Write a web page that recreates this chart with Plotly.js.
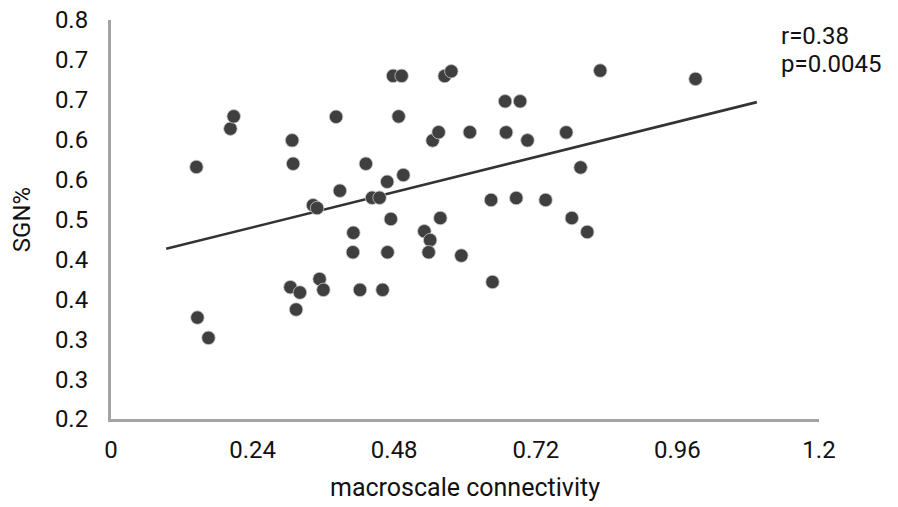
<!DOCTYPE html>
<html>
<head>
<meta charset="utf-8">
<script src="https://cdn.plot.ly/plotly-3.0.1.min.js"></script>
<style>
  html, body { margin: 0; padding: 0; background: #ffffff; }
  #chart { width: 898px; height: 507px; }
</style>
</head>
<body>
<div id="chart"></div>
<script>
// Scatter data (macroscale connectivity vs SGN%)
const connectivity = [
  0.1448, 0.1465, 0.1652, 0.2024, 0.2080, 0.3070, 0.3087, 0.3041, 0.3202, 0.3137,
  0.3425, 0.3493, 0.3535, 0.3600, 0.3815, 0.3879, 0.4108, 0.4100, 0.4320, 0.4220,
  0.4425, 0.4552, 0.4681, 0.4687, 0.4743, 0.4603, 0.4781, 0.4926, 0.4875, 0.4955,
  0.5311, 0.5409, 0.5384, 0.5451, 0.5553, 0.5582, 0.5655, 0.5768, 0.5938, 0.6082,
  0.6442, 0.6466, 0.6680, 0.6934, 0.6697, 0.7059, 0.6869, 0.7366, 0.7716, 0.7810,
  0.7959, 0.8072, 0.8292, 0.9907
];
const sgnPercent = [
  0.5790, 0.3525, 0.3220, 0.6366, 0.6551, 0.6190, 0.5839, 0.3983, 0.3902, 0.3646,
  0.5214, 0.5172, 0.4105, 0.3942, 0.6544, 0.5433, 0.4800, 0.4507, 0.5839, 0.3942,
  0.5327, 0.5327, 0.5568, 0.4507, 0.5007, 0.3942, 0.7160, 0.7160, 0.6550, 0.5669,
  0.4823, 0.4690, 0.4507, 0.6188, 0.6313, 0.5022, 0.7157, 0.7229, 0.4457, 0.6313,
  0.5294, 0.4060, 0.6777, 0.6777, 0.6310, 0.6190, 0.5323, 0.5294, 0.6310, 0.5022,
  0.5783, 0.4812, 0.7239, 0.7114
];

// Linear trend line end points
const trendX = [0.0935, 1.0947];
const trendY = [0.4559, 0.6765];

// Axis ticks (labels shown rounded to one decimal, as in the original)
const xTickVals = [0, 0.24, 0.48, 0.72, 0.96, 1.2];
const xTickText = ['0', '0.24', '0.48', '0.72', '0.96', '1.2'];
const yTickVals = [0.20, 0.26, 0.32, 0.38, 0.44, 0.50, 0.56, 0.62, 0.68, 0.74, 0.80];
const yTickText = ['0.2', '0.3', '0.3', '0.4', '0.4', '0.5', '0.6', '0.6', '0.7', '0.7', '0.8'];

const statLines = ['r=0.38', 'p=0.0045'];

const fontFamily = 'Roboto, "Noto Sans", Arial, sans-serif';
const textColor = '#111111';
const fs = 24;

const traces = [
  {
    type: 'scatter',
    mode: 'lines',
    x: trendX,
    y: trendY,
    line: { color: '#333333', width: 2.6 },
    hoverinfo: 'skip',
    showlegend: false
  },
  {
    type: 'scatter',
    mode: 'markers',
    x: connectivity,
    y: sgnPercent,
    marker: { color: '#3f3f3f', size: 13.5, line: { color: '#c8c8c8', width: 0.8 } },
    showlegend: false
  }
];

const layout = {
  width: 898,
  height: 507,
  margin: { l: 111, r: 79, t: 20, b: 88, pad: 0 },
  paper_bgcolor: '#ffffff',
  plot_bgcolor: '#ffffff',
  font: { family: fontFamily, color: textColor, size: fs },
  showlegend: false,
  xaxis: {
    range: [0, 1.2],
    tickmode: 'array',
    tickvals: xTickVals,
    ticktext: xTickText,
    showgrid: false,
    zeroline: false,
    showline: true,
    linecolor: '#a3a3a3',
    linewidth: 3,
    ticks: '',
    ticklabelstandoff: 7,
    tickfont: { family: fontFamily, size: fs, color: textColor },
    title: { text: 'macroscale connectivity', font: { family: fontFamily, size: 25, color: textColor }, standoff: 16 }
  },
  yaxis: {
    range: [0.20, 0.80],
    tickmode: 'array',
    tickvals: yTickVals,
    ticktext: yTickText,
    showgrid: false,
    zeroline: false,
    showline: true,
    linecolor: '#a3a3a3',
    linewidth: 3,
    ticks: '',
    ticklabelstandoff: 15,
    tickfont: { family: fontFamily, size: fs, color: textColor },
    title: { text: 'SGN%', font: { family: fontFamily, size: fs, color: textColor }, standoff: 18 }
  },
  annotations: [
    {
      xref: 'paper', yref: 'paper',
      x: 0.943, y: 0.960,
      xanchor: 'left', yanchor: 'middle',
      text: statLines[0],
      showarrow: false,
      font: { family: fontFamily, size: fs, color: textColor }
    },
    {
      xref: 'paper', yref: 'paper',
      x: 0.943, y: 0.890,
      xanchor: 'left', yanchor: 'middle',
      text: statLines[1],
      showarrow: false,
      font: { family: fontFamily, size: fs, color: textColor }
    }
  ]
};

Plotly.newPlot('chart', traces, layout, { staticPlot: true, displayModeBar: false });
</script>
</body>
</html>
